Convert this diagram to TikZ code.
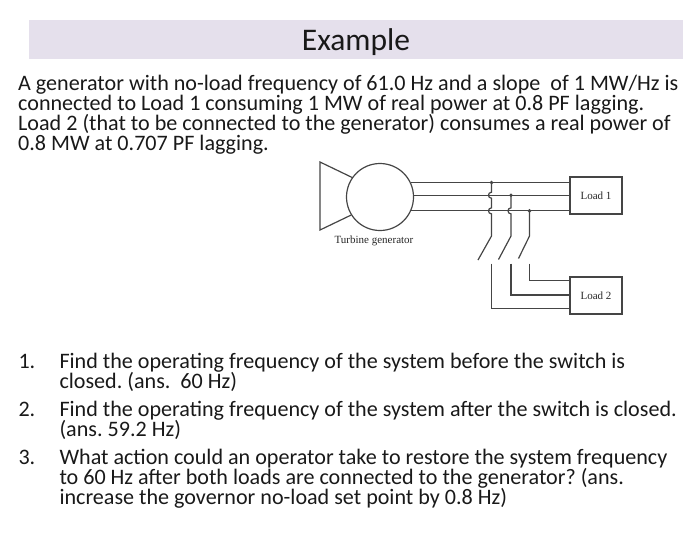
\documentclass[tikz,border=0pt]{standalone}
\usepackage{fontspec}
\setmainfont{Carlito}
\newfontfamily\schemafont{Liberation Serif}
\usetikzlibrary{calc}
\definecolor{bandeau}{HTML}{E5E0EC}
\definecolor{trait}{HTML}{454545}
\frenchspacing

\begin{document}
\begin{tikzpicture}[x=1pt,y=-1pt,
  para/.style={anchor=base west,inner sep=0pt,align=left,font=\fontsize{22.1}{20}\selectfont,text=black!90},
  fil/.style={trait,line width=1.2pt},
  charge/.style={draw=trait,line width=1.2pt,minimum width=52pt,minimum height=37pt,inner sep=0pt,font=\schemafont\fontsize{11}{11}\selectfont,text=black!85}]
\useasboundingbox (0,0) rectangle (700,536);
% Titre
\fill[bandeau] (28.5,19.5) rectangle (683,58.5);
\node[anchor=base,inner sep=0pt,font=\fontsize{31.5}{31}\selectfont,text=black!90] (titre) at (356,50) {Example};
% Enonce (ancre sur la derniere ligne)
\node[para] (enonce) at (18,150.5) {A generator with no-load frequency of 61.0 Hz and a slope\ \ of 1 MW/Hz is\\
  connected to Load 1 consuming 1 MW of real power at 0.8 PF lagging.\\
  Load 2 (that to be connected to the generator) consumes a real power of\\
  0.8 MW at 0.707 PF lagging.};
% Questions
\node[para] (n1) at (18.3,368.3) {1.};
\node[para] (q1) at (59.3,388.3) {Find the operating frequency of the system before the switch is\\
  closed. (ans.\ \ 60 Hz)};
\node[para] (n2) at (18.3,416.7) {2.};
\node[para] (q2) at (59.3,436.7) {Find the operating frequency of the system after the switch is closed.\\
  (ans. 59.2 Hz)};
\node[para] (n3) at (18.3,464.3) {3.};
\node[para] (q3) at (59.3,504.3) {What action could an operator take to restore the system frequency\\
  to 60 Hz after both loads are connected to the generator? (ans.\\
  increase the governor no-load set point by 0.8 Hz)};
% Schema
\node[circle,draw=trait,line width=1.2pt,minimum size=67pt,inner sep=0pt] (gen) at (380,197) {};
\coordinate (t1) at (320,162);
\coordinate (t2) at (320,230);
\draw[fil] (gen.145) -- (t1) -- (t2) -- (gen.212);
\node[font=\schemafont\fontsize{11}{11}\selectfont,text=black!85,inner sep=0pt] (lbl) at (374,241) {Turbine generator};
\node[charge] (load1) at (596,195.5) {Load 1};
\node[charge] (load2) at (596,295.5) {Load 2};
\draw[fil] (gen.25) -- (gen.25 -| load1.west);
\draw[fil] (gen.3) -- (gen.3 -| load1.west);
\draw[fil] (gen.-24) -- (gen.-24 -| load1.west);
% Interrupteurs
\coordinate (s1) at (491.5,236);
\coordinate (s2) at (511,236);
\coordinate (s3) at (529.5,236);
\coordinate (b1) at (478,260);
\coordinate (b2) at (498.5,259.5);
\coordinate (b3) at (518.5,258.5);
\coordinate (c1) at (491.5,263.5);
\coordinate (c2) at (511,263.5);
\coordinate (c3) at (529.5,263.5);
\draw[fil] (s1 |- gen.25) -- ($(s1 |- gen.3)+(0,-3)$) .. controls +(-4,0) and +(-4,0) .. ($(s1 |- gen.3)+(0,3)$)
  -- ($(s1 |- gen.-24)+(0,-3)$) .. controls +(-4,0) and +(-4,0) .. ($(s1 |- gen.-24)+(0,3)$) -- (s1) -- (b1);
\draw[fil] (s2 |- gen.3) -- ($(s2 |- gen.-24)+(0,-3)$) .. controls +(-4,0) and +(-4,0) .. ($(s2 |- gen.-24)+(0,3)$) -- (s2) -- (b2);
\draw[fil] (s3 |- gen.-24) -- (s3) -- (b3);
\fill[trait] (s1 |- gen.25) circle (1.9);
\fill[trait] (s2 |- gen.3) circle (1.9);
\fill[trait] (s3 |- gen.-24) circle (1.9);
\draw[fil] (c1) |- ([yshift=-13pt]load2.west);
\draw[fil] (c2) |- ([yshift=0.5pt]load2.west);
\draw[fil] (c3) |- ([yshift=14.8pt]load2.west);
\end{tikzpicture}
\end{document}
